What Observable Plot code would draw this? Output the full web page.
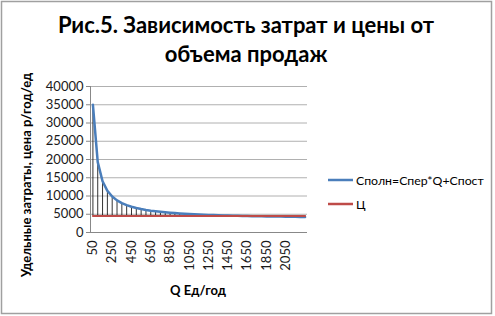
<!DOCTYPE html>
<html><head><meta charset="utf-8">
<script src="https://cdn.jsdelivr.net/npm/d3@7"></script>
<script src="https://cdn.jsdelivr.net/npm/@observablehq/plot@0.6"></script>
<style>
body{margin:0;background:#fff;}
#chart{position:relative;width:495px;height:316px;}
</style></head><body><div id="chart"></div>
<script>
const quantities = [50,100,150,200,250,300,350,400,450,500,550,600,650,700,750,800,850,900,950,1000,1050,1100,1150,1200,1250,1300,1350,1400,1450,1500,1550,1600,1650,1700,1750,1800,1850,1900,1950,2000,2050,2100,2150,2200,2250];
const costs = [35000,19280,14040,11420,9850,8800,8050,7490,7050,6700,6420,6180,5980,5810,5660,5530,5410,5310,5210,5130,5060,4990,4930,4870,4820,4770,4720,4680,4640,4610,4570,4540,4510,4480,4460,4430,4410,4390,4370,4350,4330,4310,4290,4270,4260];
const prices = [4500,4500,4500,4500,4500,4500,4500,4500,4500,4500,4500,4500,4500,4500,4500,4500,4500,4500,4500,4500,4500,4500,4500,4500,4500,4500,4500,4500,4500,4500,4500,4500,4500,4500,4500,4500,4500,4500,4500,4500,4500,4500,4500,4500,4500];
const xTicks = [50,250,450,650,850,1050,1250,1450,1650,1850,2050];
const yTicks = [0,5000,10000,15000,20000,25000,30000,35000,40000];
const seriesNames = ["Сполн=Спер*Q+Спост","Ц"];
const titleLines = ["Рис.5. Зависимость затрат и цены от","объема продаж"];
const yTitle = "Удельные затраты, цена р/год/ед";
const xTitle = "Q Ед/год";

const data = quantities.map((q,i)=>({q, cost: costs[i], price: prices[i]}));
const blue = "#4a7ebb", red = "#be4b48";

const chart = Plot.plot({
  width:495, height:316,
  marginLeft:90, marginRight:188, marginTop:86, marginBottom:84,
  style:{fontFamily:"Lato, sans-serif", fontSize:"13px", color:"#000", background:"#fff"},
  x:{type:"point", domain: quantities, padding:0.5},
  y:{domain:[0,40000]},
  marks:[
    Plot.gridY(yTicks,{stroke:"#b0b0b0", strokeOpacity:1}),
    Plot.ruleX(data,{x:"q", y1:"price", y2:"cost", stroke:"#000", strokeWidth:0.8}),
    Plot.lineY(data,{x:"q", y:"cost", stroke:blue, strokeWidth:2.5}),
    Plot.lineY(data,{x:"q", y:"price", stroke:red, strokeWidth:2}),
    Plot.frame({anchor:"left", stroke:"#888"}),
    Plot.ruleY([0],{stroke:"#888"}),
    Plot.axisY(yTicks,{tickSize:4, tickPadding:3, label:null, stroke:"#888", fill:"#1a1a1a", tickFormat:d3.format("d")}),
    Plot.axisX(xTicks,{tickRotate:-90, tickSize:0, tickPadding:8, label:null, fill:"#1a1a1a", tickFormat:d3.format("d")})
  ]
});
document.getElementById("chart").appendChild(chart);

const svg = d3.select(chart);
svg.append("rect").attr("x",1.5).attr("y",1.5).attr("width",490).attr("height",312)
  .attr("fill","none").attr("stroke","#a0a0a0").attr("stroke-width",1.5);
const title = svg.append("text").attr("text-anchor","middle")
  .attr("font-family","Lato, sans-serif").attr("font-weight","bold").attr("font-size",22).attr("fill","#000");
title.append("tspan").attr("x",246).attr("y",33).text(titleLines[0]);
title.append("tspan").attr("x",246).attr("y",62).text(titleLines[1]);
svg.append("text").attr("transform","translate(31,175) rotate(-90)").attr("text-anchor","middle")
  .attr("font-family","Lato, sans-serif").attr("font-weight","bold").attr("font-size",13).text(yTitle);
svg.append("text").attr("x",198).attr("y",295).attr("text-anchor","middle")
  .attr("font-family","Lato, sans-serif").attr("font-weight","bold").attr("font-size",13).text(xTitle);
[[blue,180],[red,204]].forEach(([c,y],i)=>{
  svg.append("line").attr("x1",328).attr("x2",353).attr("y1",y).attr("y2",y).attr("stroke",c).attr("stroke-width",2.5);
  svg.append("text").attr("x",356).attr("y",y+4.5).attr("text-anchor","start").attr("font-family","Lato, sans-serif").attr("font-size",12.3).attr("fill","#000").text(seriesNames[i]);
});
</script></body></html>
